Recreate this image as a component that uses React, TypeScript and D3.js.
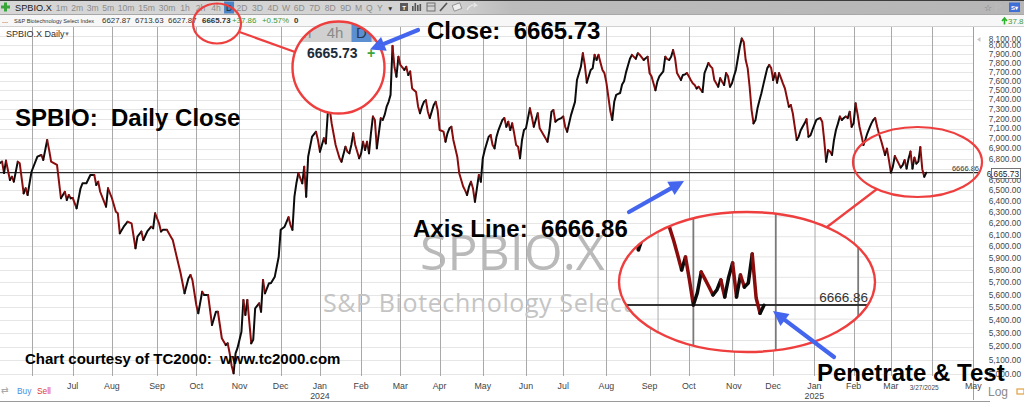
import React from "react";
import * as d3 from "d3";

// ---------- DATA ----------
const HOLIDAYS = [
  "2023-05-29", "2023-06-19", "2023-07-04", "2023-09-04", "2023-11-23", "2023-12-25",
  "2024-01-01", "2024-01-15", "2024-02-19", "2024-03-29", "2024-05-27", "2024-06-19",
  "2024-07-04", "2024-09-02", "2024-11-28", "2024-12-25", "2025-01-01", "2025-01-09",
  "2025-01-20", "2025-02-17", "2025-04-18",
];

const CLOSES_2023: [string, number][] = [
  ["2023-05-09", 6760], ["2023-05-10", 6772], ["2023-05-11", 6663], ["2023-05-12", 6782],
  ["2023-05-16", 6597], ["2023-05-17", 6628], ["2023-05-18", 6581], ["2023-05-22", 6772],
  ["2023-05-23", 6756], ["2023-05-25", 6472], ["2023-05-26", 6519], ["2023-05-30", 6457],
  ["2023-06-01", 6675], ["2023-06-06", 6820], ["2023-06-08", 6837], ["2023-06-09", 6789],
  ["2023-06-13", 6985], ["2023-06-14", 6885], ["2023-06-15", 6772], ["2023-06-21", 6740],
  ["2023-06-23", 6427], ["2023-06-27", 6487], ["2023-06-28", 6411], ["2023-06-29", 6457],
  ["2023-06-30", 6427], ["2023-07-03", 6430], ["2023-07-06", 6335], ["2023-07-10", 6519],
  ["2023-07-11", 6566], ["2023-07-13", 6566], ["2023-07-17", 6644], ["2023-07-19", 6645],
  ["2023-07-20", 6550], ["2023-07-21", 6581], ["2023-07-24", 6487], ["2023-07-27", 6350],
  ["2023-07-28", 6519], ["2023-08-01", 6427], ["2023-08-03", 6305], ["2023-08-04", 6290],
  ["2023-08-07", 6113], ["2023-08-09", 6171], ["2023-08-11", 6215], ["2023-08-15", 6201],
  ["2023-08-17", 5984], ["2023-08-18", 6084], ["2023-08-22", 6129], ["2023-08-23", 6055],
  ["2023-08-25", 6129], ["2023-08-29", 6171], ["2023-08-30", 6157], ["2023-08-31", 6290],
  ["2023-09-05", 6201], ["2023-09-06", 6129], ["2023-09-07", 6144], ["2023-09-11", 6144],
  ["2023-09-13", 6084], ["2023-09-14", 6055], ["2023-09-18", 5912], ["2023-09-20", 5774],
  ["2023-09-22", 5611], ["2023-09-26", 5733], ["2023-09-27", 5760], ["2023-09-28", 5719],
  ["2023-10-02", 5518], ["2023-10-03", 5453], ["2023-10-05", 5624], ["2023-10-06", 5598],
  ["2023-10-10", 5598], ["2023-10-12", 5363], ["2023-10-16", 5465], ["2023-10-17", 5465],
  ["2023-10-19", 5262], ["2023-10-23", 5211], ["2023-10-24", 5224], ["2023-10-25", 5150],
  ["2023-10-26", 5060], ["2023-10-27", 5005], ["2023-10-30", 5150], ["2023-10-31", 5190],
  ["2023-11-02", 5311], ["2023-11-03", 5558], ["2023-11-06", 5440], ["2023-11-07", 5558],
  ["2023-11-09", 5224], ["2023-11-10", 5250], ["2023-11-13", 5492], ["2023-11-15", 5531],
  ["2023-11-16", 5465], ["2023-11-17", 5719], ["2023-11-20", 5611], ["2023-11-22", 5692],
  ["2023-11-24", 5692], ["2023-11-28", 5746], ["2023-11-30", 5912], ["2023-12-01", 6144],
  ["2023-12-05", 6171], ["2023-12-07", 6255], ["2023-12-08", 6186], ["2023-12-11", 6144],
  ["2023-12-12", 6441], ["2023-12-13", 6566], ["2023-12-14", 6661], ["2023-12-18", 6566],
  ["2023-12-19", 6723], ["2023-12-20", 6441], ["2023-12-21", 6820], ["2023-12-26", 7018],
  ["2023-12-28", 7068], ["2023-12-29", 6985],
];

const CLOSES_2024: [string, number][] = [
  ["2024-01-02", 6869], ["2024-01-04", 7002], ["2024-01-05", 6951], ["2024-01-08", 7257],
  ["2024-01-09", 7300], ["2024-01-10", 7150], ["2024-01-12", 6935], ["2024-01-17", 6805],
  ["2024-01-18", 6772], ["2024-01-22", 6918], ["2024-01-23", 6869], ["2024-01-24", 6853],
  ["2024-01-25", 6935], ["2024-01-26", 7052], ["2024-01-29", 6935], ["2024-01-31", 6805],
  ["2024-02-01", 6853], ["2024-02-02", 6968], ["2024-02-05", 6885], ["2024-02-06", 6968],
  ["2024-02-07", 6853], ["2024-02-08", 7052], ["2024-02-09", 7223], ["2024-02-12", 7188],
  ["2024-02-13", 6902], ["2024-02-14", 7050], ["2024-02-15", 7205], ["2024-02-16", 7188],
  ["2024-02-20", 7240], ["2024-02-21", 7325], ["2024-02-22", 7376], ["2024-02-23", 7450],
  ["2024-02-26", 7990], ["2024-02-27", 7750], ["2024-02-28", 7646], ["2024-02-29", 7867],
  ["2024-03-01", 7775], ["2024-03-05", 7720], ["2024-03-06", 7755], ["2024-03-07", 7665],
  ["2024-03-08", 7703], ["2024-03-11", 7518], ["2024-03-12", 7500], ["2024-03-13", 7480],
  ["2024-03-14", 7330], ["2024-03-15", 7257], ["2024-03-18", 7325], ["2024-03-19", 7376],
  ["2024-03-20", 7394], ["2024-03-21", 7273], ["2024-03-22", 7207], ["2024-03-26", 7342],
  ["2024-03-27", 7376], ["2024-03-28", 7290], ["2024-04-01", 7085], ["2024-04-03", 7068],
  ["2024-04-04", 6968], ["2024-04-05", 7052], ["2024-04-08", 7102], ["2024-04-09", 7118],
  ["2024-04-10", 6985], ["2024-04-12", 6820], ["2024-04-15", 6661], ["2024-04-17", 6535],
  ["2024-04-18", 6500], ["2024-04-19", 6457], ["2024-04-22", 6535], ["2024-04-23", 6581],
  ["2024-04-24", 6519], ["2024-04-25", 6395], ["2024-04-26", 6519], ["2024-04-29", 6644],
  ["2024-04-30", 6581], ["2024-05-01", 6805], ["2024-05-02", 6885], ["2024-05-06", 7018],
  ["2024-05-07", 7035], ["2024-05-08", 6935], ["2024-05-09", 6902], ["2024-05-10", 7018],
  ["2024-05-13", 7085], ["2024-05-15", 7188], ["2024-05-16", 7207], ["2024-05-17", 7118],
  ["2024-05-20", 7170], ["2024-05-21", 7085], ["2024-05-22", 7153], ["2024-05-23", 7052],
  ["2024-05-24", 6935], ["2024-05-28", 6918], ["2024-05-29", 6805], ["2024-05-30", 6985],
  ["2024-05-31", 7085], ["2024-06-03", 7102], ["2024-06-05", 7308], ["2024-06-06", 7220],
  ["2024-06-07", 7118], ["2024-06-11", 7257], ["2024-06-12", 7102], ["2024-06-14", 7035],
  ["2024-06-18", 6968], ["2024-06-20", 7085], ["2024-06-21", 7273], ["2024-06-24", 7290],
  ["2024-06-25", 7170], ["2024-06-26", 7188], ["2024-06-28", 7207], ["2024-07-01", 7223],
  ["2024-07-02", 7118], ["2024-07-03", 7068], ["2024-07-08", 7240], ["2024-07-10", 7376],
  ["2024-07-11", 7610], ["2024-07-15", 7755], ["2024-07-16", 7906], ["2024-07-17", 7775],
  ["2024-07-18", 7581], ["2024-07-22", 7720], ["2024-07-23", 7738], ["2024-07-24", 7888],
  ["2024-07-25", 7831], ["2024-07-26", 7888], ["2024-07-29", 7800], ["2024-07-30", 7720],
  ["2024-07-31", 7685], ["2024-08-01", 7581], ["2024-08-02", 7430], ["2024-08-05", 7280],
  ["2024-08-06", 7188], ["2024-08-07", 7376], ["2024-08-08", 7450], ["2024-08-09", 7460],
  ["2024-08-12", 7470], ["2024-08-13", 7560], ["2024-08-14", 7597], ["2024-08-15", 7693],
  ["2024-08-16", 7770], ["2024-08-19", 7845], ["2024-08-20", 7888], ["2024-08-22", 7845],
  ["2024-08-23", 7906], ["2024-08-26", 7888], ["2024-08-28", 7831], ["2024-08-29", 7850],
  ["2024-08-30", 7867], ["2024-09-03", 7685], ["2024-09-04", 7650], ["2024-09-06", 7500],
  ["2024-09-09", 7595], ["2024-09-10", 7650], ["2024-09-12", 7703], ["2024-09-13", 7867],
  ["2024-09-16", 7840], ["2024-09-17", 7831], ["2024-09-18", 7867], ["2024-09-19", 7943],
  ["2024-09-20", 7850], ["2024-09-23", 7685], ["2024-09-25", 7610], ["2024-09-26", 7665],
  ["2024-09-27", 7670], ["2024-09-30", 7685], ["2024-10-01", 7650], ["2024-10-02", 7610],
  ["2024-10-03", 7575], ["2024-10-04", 7556], ["2024-10-07", 7518], ["2024-10-08", 7537],
  ["2024-10-10", 7480], ["2024-10-11", 7685], ["2024-10-15", 7797], ["2024-10-16", 7760],
  ["2024-10-17", 7740], ["2024-10-18", 7610], ["2024-10-22", 7537], ["2024-10-23", 7630],
  ["2024-10-24", 7590], ["2024-10-25", 7556], ["2024-10-28", 7685], ["2024-10-29", 7650],
  ["2024-10-30", 7537], ["2024-10-31", 7575], ["2024-11-01", 7650], ["2024-11-04", 7720],
  ["2024-11-05", 7850], ["2024-11-06", 7980], ["2024-11-07", 8075], ["2024-11-08", 8035],
  ["2024-11-11", 7830], ["2024-11-12", 7740], ["2024-11-13", 7537], ["2024-11-14", 7290],
  ["2024-11-15", 7153], ["2024-11-18", 7188], ["2024-11-19", 7308], ["2024-11-20", 7390],
  ["2024-11-21", 7467], ["2024-11-22", 7560], ["2024-11-25", 7650], ["2024-11-26", 7740],
  ["2024-11-27", 7775], ["2024-11-29", 7740], ["2024-12-02", 7610], ["2024-12-03", 7685],
  ["2024-12-04", 7581], ["2024-12-05", 7685], ["2024-12-06", 7630], ["2024-12-09", 7570],
  ["2024-12-10", 7518], ["2024-12-12", 7325], ["2024-12-13", 7342], ["2024-12-16", 7257],
  ["2024-12-17", 7120], ["2024-12-18", 6985], ["2024-12-19", 7018], ["2024-12-20", 7080],
  ["2024-12-23", 7118], ["2024-12-24", 7153], ["2024-12-26", 7195], ["2024-12-27", 7018],
  ["2024-12-30", 7030], ["2024-12-31", 7085],
];

const CLOSES_2025: [string, number][] = [
  ["2025-01-02", 7137], ["2025-01-03", 7188], ["2025-01-06", 7200], ["2025-01-07", 7207],
  ["2025-01-08", 7170], ["2025-01-10", 6985], ["2025-01-13", 6772], ["2025-01-14", 6885],
  ["2025-01-15", 6870], ["2025-01-16", 6837], ["2025-01-17", 6985], ["2025-01-21", 7085],
  ["2025-01-22", 7150], ["2025-01-23", 7223], ["2025-01-24", 7188], ["2025-01-27", 7207],
  ["2025-01-28", 7223], ["2025-01-29", 7207], ["2025-01-30", 7273], ["2025-01-31", 7118],
  ["2025-02-03", 7153], ["2025-02-04", 7360], ["2025-02-05", 7250], ["2025-02-06", 7118],
  ["2025-02-07", 7030], ["2025-02-10", 6935], ["2025-02-11", 6990], ["2025-02-12", 7052],
  ["2025-02-13", 7102], ["2025-02-14", 7150], ["2025-02-18", 7188], ["2025-02-19", 7207],
  ["2025-02-20", 7118], ["2025-02-21", 7042], ["2025-02-24", 6980], ["2025-02-25", 6909],
  ["2025-02-26", 6836], ["2025-02-27", 6899], ["2025-02-28", 6787], ["2025-03-03", 6667],
  ["2025-03-04", 6724], ["2025-03-05", 6826], ["2025-03-06", 6790], ["2025-03-07", 6753],
  ["2025-03-10", 6715], ["2025-03-11", 6739], ["2025-03-12", 6787], ["2025-03-13", 6705],
  ["2025-03-14", 6801], ["2025-03-17", 6870], ["2025-03-18", 6705], ["2025-03-19", 6811],
  ["2025-03-20", 6753], ["2025-03-21", 6772], ["2025-03-24", 6914], ["2025-03-25", 6700],
  ["2025-03-26", 6627.87], ["2025-03-27", 6665.73],
];

const AXIS_LINE_VALUE = 6666.86;
const LAST_CLOSE = 6665.73;
const PRICE_TICKS = d3.range(5000, 8101, 100);
const TIMEFRAMES = ["1m", "2m", "3m", "5m", "10m", "15m", "30m", "1h", "2h", "4h", "D", "2D", "3D", "4D", "W", "6D", "7D", "8D", "9D", "M", "Q", "Y"];
const QUOTE_VALUES = ["6627.87", "6713.63", "6627.87", "6665.73", "+37.86", "+0.57%", "0"];
const INDEX_NAME = "S&P Biotechnology Select Index";
const SYMBOL = "SPBIO.X";

// ---------- LAYOUT ----------
const W = 1024, H = 404;
const PLOT_TOP = 27, PLOT_BOTTOM = 376, PLOT_RIGHT = 973.5;
const RED = "#ee3e3e";
const BLUE = "#4466ee";
const UP = "#0c0c0c";
const DOWN = "#8a0c0c";
const SANS = "'Liberation Sans', Arial, sans-serif";

const fmt = d3.timeFormat("%Y-%m-%d");
const parse = d3.timeParse("%Y-%m-%d");
const holidaySet = new Set(HOLIDAYS);
const sessions = d3.timeDay
  .range(parse("2023-05-08")!, parse("2025-05-03")!)
  .filter((d) => d.getDay() !== 0 && d.getDay() !== 6 && !holidaySet.has(fmt(d)));
const sessionKeys = sessions.map(fmt);
const idxMap = new Map(sessionKeys.map((k, i) => [k, i] as [string, number]));
const idxOf = (s: string) => {
  const v = idxMap.get(s);
  if (v !== undefined) return v;
  return d3.bisectLeft(sessionKeys, s);
};

const x = d3.scaleLinear().domain([idxOf("2023-06-01"), idxOf("2025-04-01")]).range([31.5, 932.1]);
const y = d3.scaleLog().domain([5000, 8000]).range([374, 45]);

const DATA = [...CLOSES_2023, ...CLOSES_2024, ...CLOSES_2025].map(([d, v]) => ({ d, v, x: x(idxOf(d)), y: y(v) }));

type P = { d: string; v: number; x: number; y: number };
const runs: { up: boolean; pts: P[] }[] = [];
for (let i = 1; i < DATA.length; i++) {
  const up = DATA[i].v >= DATA[i - 1].v;
  if (!runs.length || runs[runs.length - 1].up !== up) runs.push({ up, pts: [DATA[i - 1]] });
  runs[runs.length - 1].pts.push(DATA[i]);
}
const lineGen = d3.line<P>().x((p) => p.x).y((p) => p.y);

const monthTicks: { date: Date; x: number }[] = [];
for (let i = 1; i < sessions.length; i++) {
  if (sessions[i].getMonth() !== sessions[i - 1].getMonth()) monthTicks.push({ date: sessions[i], x: x(i) });
}
const midTicks: number[] = [];
for (let i = 1; i < sessions.length; i++) {
  if (sessions[i].getDate() >= 15 && sessions[i - 1].getDate() < 15 && sessions[i].getMonth() === sessions[i - 1].getMonth()) midTicks.push(x(i));
}

const lastPt = DATA[DATA.length - 1];
const axisY = y(AXIS_LINE_VALUE);
const lastLabel = d3.timeFormat("%-m/%-d/%Y")(parse(lastPt.d)!);
const lastY = y(LAST_CLOSE);

const INSET = { cx: 747, cy: 282, rx: 128, ry: 70, anchorX: 764, anchorY: 305 };
const insetTx = INSET.anchorX - 2 * lastPt.x;
const insetTy = INSET.anchorY - 2 * axisY;

const MAG = { cx: 338.5, cy: 67.5, r: 46 };

function Arrow({ x1, y1, x2, y2 }: { x1: number; y1: number; x2: number; y2: number }) {
  const a = Math.atan2(y2 - y1, x2 - x1);
  const hl = 15, hw = 7.5;
  const bx = x2 - hl * Math.cos(a), by = y2 - hl * Math.sin(a);
  const px = -Math.sin(a) * hw, py = Math.cos(a) * hw;
  return (
    <g>
      <line x1={x1} y1={y1} x2={bx + Math.cos(a) * 2} y2={by + Math.sin(a) * 2} stroke={BLUE} strokeWidth={4.2} strokeLinecap="round" />
      <polygon points={`${x2},${y2} ${bx + px},${by + py} ${bx - px},${by - py}`} fill={BLUE} />
    </g>
  );
}

function PriceRuns({ width }: { width: number }) {
  return (
    <g fill="none" strokeLinejoin="round" strokeLinecap="round">
      {runs.map((r, i) => (
        <path key={i} d={lineGen(r.pts) || ""} stroke={r.up ? UP : DOWN} strokeWidth={width} />
      ))}
    </g>
  );
}

export default function App() {
  const tfPos: number[] = [];
  let cx = 61.7;
  TIMEFRAMES.forEach((t, i) => {
    if (i > 0) cx += ((TIMEFRAMES[i - 1].length + t.length) / 2) * 4.95 + 5.6;
    tfPos.push(cx);
  });
  const quotePos = [102, 135, 168, 202, 232, 262, 294];
  const priceFmt = d3.format(",.2f");
  const pre = { whiteSpace: "pre" as const };

  return (
    <div style={{ position: "fixed", left: 0, top: 0, width: W, height: H, background: "#fff" }}>
      <svg width={W} height={H} style={{ display: "block" }} fontFamily={SANS}>
        <defs>
          <clipPath id="plotClip">
            <rect x={0} y={PLOT_TOP} width={PLOT_RIGHT} height={PLOT_BOTTOM - PLOT_TOP} />
          </clipPath>
          <clipPath id="magClip">
            <circle cx={MAG.cx} cy={MAG.cy} r={MAG.r} />
          </clipPath>
          <clipPath id="insetClip">
            <ellipse cx={INSET.cx} cy={INSET.cy} rx={INSET.rx} ry={INSET.ry} />
          </clipPath>
          <linearGradient id="tbGrad" x1="0" x2="1" y1="0" y2="0">
            <stop offset="0" stopColor="#d6d6d6" />
            <stop offset="0.44" stopColor="#d2d2d2" />
            <stop offset="0.5" stopColor="#bcbcbc" />
            <stop offset="1" stopColor="#b6b6b6" />
          </linearGradient>
        </defs>

        <rect x={0} y={0} width={W} height={H} fill="#fff" />

        {/* grid */}
        <g>
          {PRICE_TICKS.map((t) => (
            <line key={t} x1={0} x2={PLOT_RIGHT} y1={Math.round(y(t)) + 0.5} y2={Math.round(y(t)) + 0.5} stroke="#e6e6e6" />
          ))}
          {monthTicks.map((m, i) => (
            <line key={i} x1={Math.round(m.x) + 0.5} x2={Math.round(m.x) + 0.5} y1={PLOT_TOP} y2={PLOT_BOTTOM} stroke="#a9a9a9" />
          ))}
        </g>

        {/* watermark */}
        <text x={420} y={270} fontFamily="'Open Sans', sans-serif" fontSize={50} fill="#b9b9b9">{SYMBOL}</text>
        <text x={323} y={311.5} fontFamily="'Open Sans', sans-serif" fontSize={25} letterSpacing={0.6} fill="#c4c4c4">S&amp;P Biotechnology Select</text>

        {/* axis line */}
        <line x1={0} x2={980} y1={axisY} y2={axisY} stroke="#2a2a2a" strokeWidth={1.1} />
        <text x={979} y={axisY - 2} textAnchor="end" fontSize={7.5} fill="#333">{AXIS_LINE_VALUE.toFixed(2)}</text>

        {/* price line */}
        <g clipPath="url(#plotClip)">
          <PriceRuns width={2} />
        </g>

        {/* right axis */}
        <line x1={PLOT_RIGHT} x2={PLOT_RIGHT} y1={PLOT_TOP} y2={400} stroke="#a0a0a0" />
        <polygon points="977,39.5 980.5,37 980.5,42" fill="#c8c8c8" />
        {PRICE_TICKS.filter((t) => Math.abs(y(t) - lastY) > 6).map((t) => (
          <text key={t} x={1021} y={Math.max(y(t), 39.5)} dy="0.35em" textAnchor="end" fontSize={8.3} fill="#474747">
            {priceFmt(t)}
          </text>
        ))}
        <rect x={991.5} y={168.5} width={29} height={10} fill="#fff" stroke="#555" strokeWidth={0.8} />
        <text x={1019} y={176.6} textAnchor="end" fontSize={8.3} fill="#222">{priceFmt(LAST_CLOSE)}</text>
        <text x={988} y={396} fontSize={12} fill="#8a8a8a">Log</text>
        <rect x={1017} y={389} width={7} height={5} fill="none" stroke="#e0a040" strokeWidth={1.2} />

        {/* x axis */}
        {monthTicks.map((m, i) => {
          if (m.x < 50) return null;
          if (Math.abs(m.x - lastPt.x) < 20) return null;
          if (m.x > PLOT_RIGHT + 2) return null;
          return (
            <g key={i}>
              <text x={m.x} y={388.5} textAnchor="middle" fontSize={8.8} fill="#444">{d3.timeFormat("%b")(m.date)}</text>
              {m.date.getMonth() === 0 && (
                <text x={m.x} y={399} textAnchor="middle" fontSize={8.8} fill="#444">{d3.timeFormat("%Y")(m.date)}</text>
              )}
            </g>
          );
        })}
        <text x={lastPt.x - 2} y={389.5} textAnchor="middle" fontSize={6.5} fill="#444">{lastLabel}</text>
        <line x1={0} x2={990} y1={401.5} y2={401.5} stroke="#9a9a9a" />
        <text x={1} y={393} fontSize={9} fill="#aaa">⇄</text>
        <text x={17} y={393.5} fontSize={8.3} fill="#4a8fe0">Buy</text>
        <text x={37} y={393.5} fontSize={8.3} fill="#e03a3a">Sell</text>

        {/* header */}
        <rect x={0} y={0} width={W} height={14} fill="url(#tbGrad)" />
        <line x1={0} x2={W} y1={0.5} y2={0.5} stroke="#3c3c3c" />
        <line x1={0} x2={W} y1={14.5} y2={14.5} stroke="#a8a8a8" />
        <rect x={0} y={15} width={W} height={11} fill="#f7f7f7" />
        <line x1={0} x2={W} y1={26.5} y2={26.5} stroke="#d2d2d2" />
        <path d="M4,2.5 h3 v3 h3 v3 h-3 v3 h-3 v-3 h-3 v-3 h3 z" fill="#3aa53a" />
        <text x={15} y={11} fontSize={9.2} fill="#222">{SYMBOL}</text>
        {TIMEFRAMES.map((t, i) => (
          <g key={t}>
            {t === "D" && <rect x={tfPos[i] - 5} y={1.5} width={10} height={12} fill="#4a84c8" />}
            <text x={tfPos[i]} y={11} textAnchor="middle" fontSize={8.6} fill={t === "D" ? "#1a2a40" : "#8c8c8c"}>{t}</text>
          </g>
        ))}
        <text x={tfPos[tfPos.length - 1] + 10.5} y={10.5} textAnchor="middle" fontSize={6.5} fill="#333">▼</text>
        <rect x={400} y={3} width={8} height={8} fill="#5a5a5a" />
        <text x={404} y={10} textAnchor="middle" fontSize={6} fill="#fff" fontWeight="bold">T</text>
        <rect x={412} y={6} width={1.6} height={5} fill="#555" />
        <rect x={414.5} y={3} width={1.6} height={8} fill="#555" />
        <rect x={417} y={5} width={1.6} height={6} fill="#555" />
        <rect x={419.5} y={4} width={1.6} height={7} fill="#555" />
        <rect x={427} y={3} width={8} height={8} fill="none" stroke="#666" strokeWidth={0.9} />
        <line x1={427} x2={435} y1={6} y2={6} stroke="#666" strokeWidth={0.8} />
        <line x1={440} y1={11} x2={447} y2={3} stroke="#555" strokeWidth={1.6} />
        <rect x={453} y={4} width={8} height={6} fill="#eee" stroke="#888" strokeWidth={0.8} transform="rotate(-20 457 7)" />
        <path d="M467,10 q3,-6 9,-5 l-2,-2 m2,2 l-2,2" fill="none" stroke="#e8e8e8" strokeWidth={1.3} />
        <text x={988} y={11} textAnchor="middle" fontSize={9} fill="#777">☆</text>
        <path d="M996,3 v9 M996,3.5 l6,2.5 l-6,2.5" fill="none" stroke="#bbb" strokeWidth={1} />
        <rect x={1009} y={2.5} width={11} height={9.5} fill="#3e6fd6" />
        <text x={1014.5} y={10} textAnchor="middle" fontSize={6} fill="#fff" fontWeight="bold">S▾</text>

        <text x={2} y={22.5} fontSize={7} fill="#333">...</text>
        <text x={14} y={22.5} fontSize={5.6} fill="#333">{INDEX_NAME}</text>
        {QUOTE_VALUES.map((q, i) => (
          <text key={i} x={quotePos[i]} y={23.3} fontSize={7.9}
            fontWeight={i === 3 || i === 6 ? "bold" : "normal"}
            fill={i === 4 || i === 5 ? "#3a9a3a" : "#333"}>{q}</text>
        ))}
        <path d="M1004.5,24.5 v-6 M1002,21 l2.5,-3 l2.5,3" fill="none" stroke="#28b028" strokeWidth={1.6} />
        <text x={1008} y={24} fontSize={8} fill="#4a9a3a">37.8</text>

        <text x={6} y={36.5} fontSize={9} fill="#333">{SYMBOL} Daily</text>
        <text x={64} y={36} fontSize={6} fill="#777">▼</text>

        {/* annotations */}
        <ellipse cx={217} cy={23.5} rx={24} ry={20} fill="none" stroke={RED} strokeWidth={2.2} />
        <line x1={239.5} y1={32} x2={295} y2={52} stroke={RED} strokeWidth={2.2} />

        <g clipPath="url(#magClip)">
          <circle cx={MAG.cx} cy={MAG.cy} r={MAG.r} fill="#fff" />
          <rect x={280} y={15} width={120} height={27} fill="#d0d0d0" />
          <text x={303} y={38} textAnchor="middle" fontSize={15} fill="#8a8a8a">2h</text>
          <text x={335} y={38} textAnchor="middle" fontSize={15} fill="#8a8a8a">4h</text>
          <rect x={351.5} y={22} width={20} height={20} fill="#5b8fd2" />
          <text x={361.5} y={38} textAnchor="middle" fontSize={15} fill="#2a3a50">D</text>
          <text x={286} y={58.3} fontSize={14} fontWeight="bold" fill="#1c2b3a">7</text>
          <text x={307} y={58.3} fontSize={14} fontWeight="bold" fill="#1c2b3a">{LAST_CLOSE.toFixed(2)}</text>
          <text x={367} y={58.3} fontSize={14} fontWeight="bold" fill="#3aa53a">+</text>
        </g>
        <circle cx={MAG.cx} cy={MAG.cy} r={MAG.r} fill="none" stroke={RED} strokeWidth={2.4} />

        <g clipPath="url(#insetClip)">
          <ellipse cx={INSET.cx} cy={INSET.cy} rx={INSET.rx} ry={INSET.ry} fill="#fff" />
          <g transform={`translate(${insetTx},${insetTy}) scale(2)`}>
            {PRICE_TICKS.map((t) => (
              <line key={t} x1={700} x2={1000} y1={y(t)} y2={y(t)} stroke="#e4e4e4" strokeWidth={0.5} />
            ))}
            {midTicks.map((mx, i) => (
              <line key={i} x1={mx} x2={mx} y1={100} y2={250} stroke="#aaaaaa" strokeWidth={0.5} />
            ))}
            {monthTicks.map((m, i) => (
              <line key={i} x1={m.x} x2={m.x} y1={100} y2={250} stroke="#7a7a7a" strokeWidth={0.9} />
            ))}
            <line x1={700} x2={1000} y1={axisY} y2={axisY} stroke="#333" strokeWidth={1.1} />
            <PriceRuns width={1.75} />
          </g>
          <text x={868} y={301.5} textAnchor="end" fontSize={13.5} fill="#333">{AXIS_LINE_VALUE.toFixed(2)}</text>
        </g>
        <ellipse cx={INSET.cx} cy={INSET.cy} rx={INSET.rx} ry={INSET.ry} fill="none" stroke={RED} strokeWidth={2.4} />

        <ellipse cx={917.5} cy={162} rx={64.5} ry={35} fill="none" stroke={RED} strokeWidth={2.2} />
        <line x1={877} y1={189} x2={827} y2={227} stroke={RED} strokeWidth={2.2} />

        <Arrow x1={418} y1={30} x2={370} y2={49.5} />
        <Arrow x1={629} y1={212} x2={684} y2={181} />
        <Arrow x1={834} y1={357} x2={773} y2={311} />

        <g fontFamily={SANS} fontWeight="bold" fill="#000" style={pre}>
          <text x={427} y={38.5} fontSize={24} style={pre}>{`Close:  ${LAST_CLOSE.toFixed(2)}`}</text>
          <text x={15} y={125.5} fontSize={24} style={pre}>{"SPBIO:  Daily Close"}</text>
          <text x={413} y={236.5} fontSize={24} style={pre}>{`Axis Line:  ${AXIS_LINE_VALUE.toFixed(2)}`}</text>
          <text x={817} y={380.5} fontSize={24} style={pre}>{"Penetrate & Test"}</text>
          <text x={25} y={363.5} fontSize={15} style={pre}>{"Chart courtesy of TC2000:  www.tc2000.com"}</text>
        </g>
      </svg>
    </div>
  );
}
